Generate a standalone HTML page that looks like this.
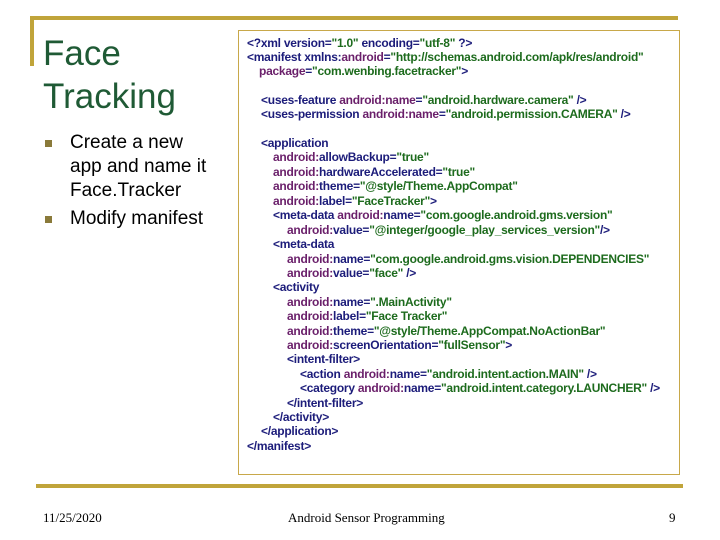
<!DOCTYPE html>
<html><head><style>
body{margin:0;width:720px;height:540px;background:#fff;position:relative;overflow:hidden;font-family:"Liberation Sans",Arial,sans-serif}
.a{position:absolute}
.t{color:#1f5a35;font-size:35px;left:43px;line-height:44px}
.b{font-size:19px;color:#000;line-height:24px;left:70px}
.sq{position:absolute;width:7px;height:7px;background:#8a7a3a;left:45px}
#code{position:absolute;left:238px;top:30px;width:442px;height:445px;border:1px solid #c8a84a;box-sizing:border-box}
.l{position:absolute;font-size:12px;white-space:pre;color:#1c1c7a;line-height:14px;font-weight:bold;letter-spacing:-0.25px}
.p{color:#6a1f6a}.g{color:#1d6b1d}
.f{font-family:"Liberation Serif",serif;font-size:13px;position:absolute;top:510px}
</style></head><body>
<div class="a" style="left:30px;top:16px;width:648px;height:4px;background:#c0a43a"></div>
<div class="a" style="left:30px;top:16px;width:4px;height:50px;background:#c0a43a"></div>
<div class="a" style="left:36px;top:484px;width:647px;height:4px;background:#c0a43a"></div>
<div class="a t" style="top:32px">Face</div>
<div class="a t" style="top:75px">Tracking</div>
<div class="sq" style="top:140px"></div>
<div class="a b" style="top:131px">Create a new<br>app and name it<br>Face.Tracker</div>
<div class="sq" style="top:216px"></div>
<div class="a b" style="top:207px">Modify manifest</div>
<div id="code"></div>
<div class="l" style="left:247px;top:36px">&lt;?xml version=<span class="g">"1.0"</span> encoding=<span class="g">"utf-8"</span> ?&gt;</div>
<div class="l" style="left:247px;top:50px">&lt;manifest xmlns:<span class="p">android</span>=<span class="g">"http://schemas.android.com/apk/res/android"</span></div>
<div class="l" style="left:259px;top:64px"><span class="p">package</span>=<span class="g">"com.wenbing.facetracker"</span>&gt;</div>
<div class="l" style="left:261px;top:93px">&lt;uses-feature <span class="p">android:name</span>=<span class="g">"android.hardware.camera"</span> /&gt;</div>
<div class="l" style="left:261px;top:107px">&lt;uses-permission <span class="p">android:name</span>=<span class="g">"android.permission.CAMERA"</span> /&gt;</div>
<div class="l" style="left:261px;top:136px">&lt;application</div>
<div class="l" style="left:273px;top:150px"><span class="p">android:</span>allowBackup=<span class="g">"true"</span></div>
<div class="l" style="left:273px;top:165px"><span class="p">android:</span>hardwareAccelerated=<span class="g">"true"</span></div>
<div class="l" style="left:273px;top:179px"><span class="p">android:</span>theme=<span class="g">"@style/Theme.AppCompat"</span></div>
<div class="l" style="left:273px;top:194px"><span class="p">android:</span>label=<span class="g">"FaceTracker"</span>&gt;</div>
<div class="l" style="left:273px;top:208px">&lt;meta-data <span class="p">android:</span>name=<span class="g">"com.google.android.gms.version"</span></div>
<div class="l" style="left:287px;top:223px"><span class="p">android:</span>value=<span class="g">"@integer/google_play_services_version"</span>/&gt;</div>
<div class="l" style="left:273px;top:237px">&lt;meta-data</div>
<div class="l" style="left:287px;top:252px"><span class="p">android:</span>name=<span class="g">"com.google.android.gms.vision.DEPENDENCIES"</span></div>
<div class="l" style="left:287px;top:266px"><span class="p">android:</span>value=<span class="g">"face"</span> /&gt;</div>
<div class="l" style="left:273px;top:280px">&lt;activity</div>
<div class="l" style="left:287px;top:295px"><span class="p">android:</span>name=<span class="g">".MainActivity"</span></div>
<div class="l" style="left:287px;top:309px"><span class="p">android:</span>label=<span class="g">"Face Tracker"</span></div>
<div class="l" style="left:287px;top:324px"><span class="p">android:</span>theme=<span class="g">"@style/Theme.AppCompat.NoActionBar"</span></div>
<div class="l" style="left:287px;top:338px"><span class="p">android:</span>screenOrientation=<span class="g">"fullSensor"</span>&gt;</div>
<div class="l" style="left:287px;top:352px">&lt;intent-filter&gt;</div>
<div class="l" style="left:300px;top:367px">&lt;action <span class="p">android:</span>name=<span class="g">"android.intent.action.MAIN"</span> /&gt;</div>
<div class="l" style="left:300px;top:381px">&lt;category <span class="p">android:</span>name=<span class="g">"android.intent.category.LAUNCHER"</span> /&gt;</div>
<div class="l" style="left:287px;top:396px">&lt;/intent-filter&gt;</div>
<div class="l" style="left:273px;top:410px">&lt;/activity&gt;</div>
<div class="l" style="left:261px;top:424px">&lt;/application&gt;</div>
<div class="l" style="left:247px;top:439px">&lt;/manifest&gt;</div>
<div class="f" style="left:43px">11/25/2020</div>
<div class="f" style="left:288px">Android Sensor Programming</div>
<div class="f" style="left:669px">9</div>
</body></html>
